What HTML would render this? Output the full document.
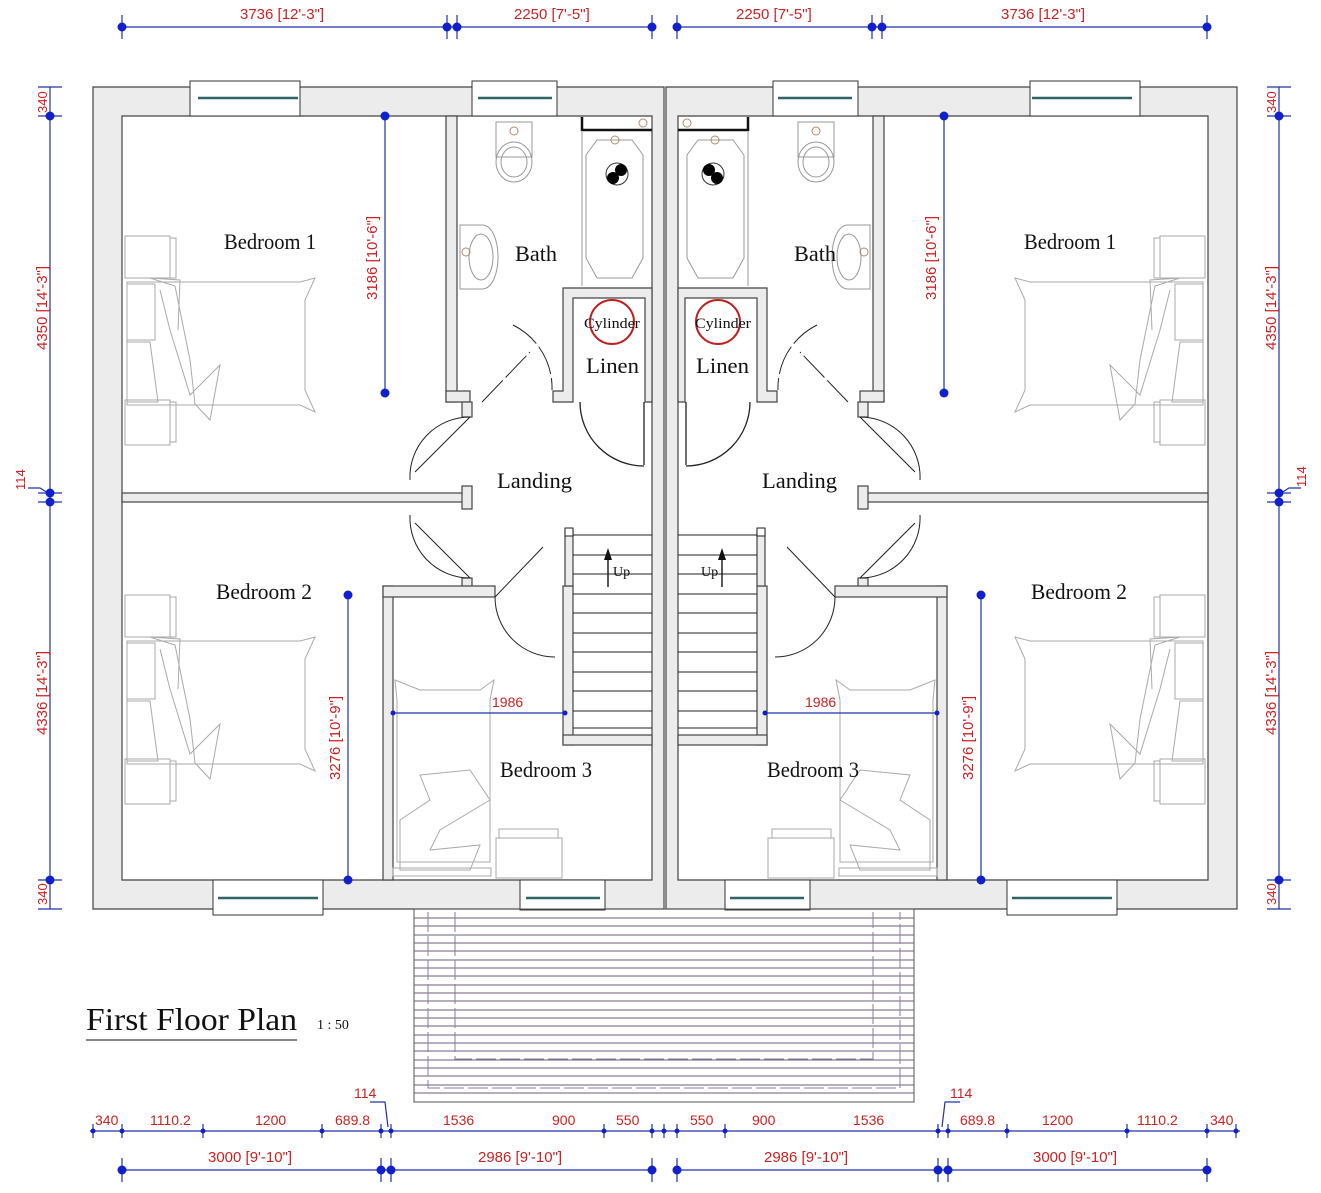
<!DOCTYPE html>
<html><head><meta charset="utf-8"><style>
html,body{margin:0;padding:0;background:#fff}
svg{display:block}
.d{fill:#cc2222;font-family:"Liberation Sans",sans-serif;font-size:15px}
.r{font-family:"Liberation Serif",serif;fill:#111}
</style></head><body>
<svg width="1321" height="1193" viewBox="0 0 1321 1193" xmlns="http://www.w3.org/2000/svg">
<defs>
<g id="half">
 <!-- walls -->
 <g fill="#ececec" stroke="#444" stroke-width="1.2">
  <path fill-rule="evenodd" d="M93,87H664V909H93Z M122,116H652V880H122Z"/>
  <rect x="122" y="493" width="348" height="9"/>
  <rect x="446" y="116" width="11" height="286"/>
  <rect x="446" y="391" width="24" height="11"/>
  <rect x="462" y="402" width="10" height="15"/>
  <rect x="462" y="486" width="10" height="23"/>
  <rect x="462" y="578" width="10" height="10"/>
  <path fill-rule="evenodd" d="M553,391H563V288H652V402H645V298H573V402H553Z"/>
  <rect x="383" y="586" width="10" height="294"/>
  <rect x="383" y="586" width="112" height="11"/>
  <rect x="563" y="586" width="10" height="159"/>
  <rect x="563" y="735" width="89" height="10"/>
  <rect x="565" y="530" width="8" height="56"/>
 </g>
 <line x1="664" y1="87" x2="664" y2="909" stroke="#444"/>
 <!-- windows -->
 <g stroke="#333" fill="#fff">
  <rect x="190" y="81" width="110" height="35"/>
  <rect x="472" y="81" width="85" height="35"/>
  <rect x="213" y="880" width="110" height="35"/>
  <rect x="520" y="880" width="85" height="30"/>
 </g>
 <g stroke="#2f6464" stroke-width="2.5">
  <line x1="198" y1="98" x2="298" y2="98"/><line x1="478" y1="98" x2="552" y2="98"/>
  <line x1="218" y1="898" x2="318" y2="898"/><line x1="526" y1="898" x2="600" y2="898"/>
 </g>
 <!-- doors -->
 <g fill="none" stroke="#222" stroke-width="1">
  <path d="M470,417 L415,472 M470,417 A60,60 0 0 0 410,480" />
  <path d="M470,578 L415,523 M470,578 A60,60 0 0 1 410,515" />
  <path d="M482,402 L530,352 M513,325 A70,70 0 0 1 552,390" stroke-dasharray="30,4"/>
  <path d="M495,597 L543,547 M495,597 A60,60 0 0 0 555,657" />
  <path d="M644,402 V465 M580,402 A64,64 0 0 0 644,466" stroke-width="1.3"/>
 </g>
 <!-- stairs -->
 <g stroke="#222" stroke-width="1">
  <line x1="573" y1="535" x2="652" y2="535"/><line x1="573" y1="555" x2="652" y2="555"/>
  <line x1="573" y1="574" x2="652" y2="574"/><line x1="573" y1="594" x2="652" y2="594"/>
  <line x1="573" y1="613" x2="652" y2="613"/><line x1="573" y1="633" x2="652" y2="633"/>
  <line x1="573" y1="652" x2="652" y2="652"/><line x1="573" y1="672" x2="652" y2="672"/>
  <line x1="573" y1="691" x2="652" y2="691"/><line x1="573" y1="711" x2="652" y2="711"/>
  <line x1="573" y1="728" x2="652" y2="728"/>
  <rect x="565" y="528" width="8" height="8" fill="#fff"/>
  <line x1="608" y1="587" x2="608" y2="553" stroke-width="1.5"/>
 </g>
 <path d="M604,560 L608,548 L612,560Z" fill="#111"/>
 <!-- bath fixtures -->
 <g fill="none" stroke="#999">
  <path d="M496,122h36v35h-36z"/><ellipse cx="514" cy="162" rx="18" ry="20"/><ellipse cx="514" cy="162" rx="13" ry="15"/>
  <path d="M460,225h22c10,0 16,15 16,32s-6,32-16,32h-22z"/><ellipse cx="481" cy="257" rx="12" ry="23"/>
  <path d="M597,140 L632,140 L643,155 L643,258 L632,278 L597,278 L586,258 L586,155Z"/>
  <line x1="582" y1="132" x2="582" y2="286"/>
 </g>
 <path d="M582,117V130H652" fill="none" stroke="#111" stroke-width="2.5"/>
 <g fill="none" stroke="#b08c6a"><circle cx="514" cy="131" r="4"/><circle cx="615" cy="140" r="4"/><circle cx="643" cy="123" r="4"/><circle cx="466" cy="252" r="4"/></g>
 <circle cx="617" cy="174" r="11" fill="#fff" stroke="#333"/>
 <circle cx="613" cy="178" r="6" fill="#000"/><circle cx="621" cy="170" r="6" fill="#000"/>
 <circle cx="612" cy="322" r="22" fill="none" stroke="#c02020" stroke-width="2"/>
 <!-- beds -->
 <g id="bed" fill="none" stroke="#aaa">
  <rect x="125" y="236" width="45" height="42"/><path d="M170,238h6v40h-6M176,245v25"/>
  <rect x="125" y="400" width="45" height="45"/><path d="M170,402h6v40h-6"/>
  <path d="M127,282H300L315,278L305,300V390L315,412L300,405H127Z"/>
  <path d="M127,284V340H155V284Z M127,342V402H158L150,342Z"/>
  <path d="M150,278L175,286L190,360L195,404L210,420L220,365L190,395L170,330L160,290"/>
  <path d="M150,278L180,280L178,330"/>
 </g>
 <use href="#bed" transform="translate(0,359)"/>
 <g fill="none" stroke="#aaa">
  <path d="M395,680L420,690H480L494,680L490,700V862H397V700Z"/>
  <path d="M420,775L470,770L490,800L440,830L430,850L480,845L470,870L400,870V820L430,800Z"/>
  <rect x="393" y="868" width="98" height="8"/>
  <rect x="496" y="838" width="66" height="40"/><path d="M499,838v-9h59v9"/>
 </g>
</g>
</defs>

<use href="#half"/>
<use href="#half" transform="translate(1330,0) scale(-1,1)"/>

<!-- deck -->
<g stroke="#6b5c7d" stroke-width="1">
 <rect x="414" y="909" width="500" height="193" fill="none" stroke="#555"/>
 <g id="dl">
 <line x1="414" y1="918" x2="914" y2="918"/><line x1="414" y1="926" x2="914" y2="926"/><line x1="414" y1="935" x2="914" y2="935"/><line x1="414" y1="943" x2="914" y2="943"/><line x1="414" y1="951" x2="914" y2="951"/><line x1="414" y1="960" x2="914" y2="960"/><line x1="414" y1="968" x2="914" y2="968"/><line x1="414" y1="976" x2="914" y2="976"/><line x1="414" y1="985" x2="914" y2="985"/><line x1="414" y1="993" x2="914" y2="993"/><line x1="414" y1="1001" x2="914" y2="1001"/><line x1="414" y1="1010" x2="914" y2="1010"/><line x1="414" y1="1018" x2="914" y2="1018"/><line x1="414" y1="1026" x2="914" y2="1026"/><line x1="414" y1="1035" x2="914" y2="1035"/><line x1="414" y1="1043" x2="914" y2="1043"/><line x1="414" y1="1051" x2="914" y2="1051"/><line x1="414" y1="1060" x2="914" y2="1060"/><line x1="414" y1="1068" x2="914" y2="1068"/><line x1="414" y1="1076" x2="914" y2="1076"/><line x1="414" y1="1085" x2="914" y2="1085"/><line x1="414" y1="1093" x2="914" y2="1093"/>
 </g>
 <path d="M428,912V1088H900V912 M455,912V1059H873V912" fill="none" stroke="#8a7aa0" stroke-dasharray="20,4"/>
</g>

<!-- room labels -->
<g class="r" font-size="22">
 <text x="224" y="249" textLength="92" lengthAdjust="spacingAndGlyphs">Bedroom 1</text>
 <text x="1024" y="249" textLength="92" lengthAdjust="spacingAndGlyphs">Bedroom 1</text>
 <text x="216" y="599" textLength="96" lengthAdjust="spacingAndGlyphs">Bedroom 2</text>
 <text x="1031" y="599" textLength="96" lengthAdjust="spacingAndGlyphs">Bedroom 2</text>
 <text x="500" y="777" textLength="92" lengthAdjust="spacingAndGlyphs">Bedroom 3</text>
 <text x="767" y="777" textLength="92" lengthAdjust="spacingAndGlyphs">Bedroom 3</text>
 <text x="515" y="261" textLength="42" lengthAdjust="spacingAndGlyphs">Bath</text>
 <text x="794" y="261" textLength="42" lengthAdjust="spacingAndGlyphs">Bath</text>
 <text x="586" y="373" textLength="53" lengthAdjust="spacingAndGlyphs">Linen</text>
 <text x="696" y="373" textLength="53" lengthAdjust="spacingAndGlyphs">Linen</text>
 <text x="497" y="488" textLength="75" lengthAdjust="spacingAndGlyphs">Landing</text>
 <text x="762" y="488" textLength="75" lengthAdjust="spacingAndGlyphs">Landing</text>
 <text x="584" y="328" font-size="15" textLength="56" lengthAdjust="spacingAndGlyphs">Cylinder</text>
 <text x="695" y="328" font-size="15" textLength="56" lengthAdjust="spacingAndGlyphs">Cylinder</text>
 <text x="613" y="576" font-size="14">Up</text>
 <text x="701" y="576" font-size="14">Up</text>
 <text x="86" y="1030" font-size="32" textLength="211" lengthAdjust="spacingAndGlyphs">First Floor  Plan</text>
 <text x="317" y="1029" font-size="14">1 : 50</text>
</g>
<line x1="86" y1="1040" x2="297" y2="1040" stroke="#111"/>

<!-- dimensions -->
<g stroke="#2233aa" stroke-width="1.2" fill="none">
 <line x1="122" y1="27" x2="652" y2="27"/><line x1="677" y1="27" x2="1207" y2="27"/>
 <line x1="50" y1="87" x2="50" y2="909"/><line x1="1279" y1="87" x2="1279" y2="909"/>
 <line x1="385" y1="116" x2="385" y2="393"/><line x1="944" y1="116" x2="944" y2="393"/>
 <line x1="348" y1="595" x2="348" y2="880"/><line x1="981" y1="595" x2="981" y2="880"/>
 <line x1="393" y1="713" x2="565" y2="713"/><line x1="765" y1="713" x2="937" y2="713"/>
 <line x1="90" y1="1131" x2="1240" y2="1131"/>
 <line x1="122" y1="1170" x2="652" y2="1170"/><line x1="677" y1="1170" x2="1207" y2="1170"/>
 <path d="M122,15v24M447,15v24M457,15v24M652,15v24M677,15v24M872,15v24M882,15v24M1207,15v24"/>
 <path d="M38,87h24M38,116h24M38,493h24M38,502h24M38,880h24M38,909h24"/>
 <path d="M1267,87h24M1267,116h24M1267,493h24M1267,502h24M1267,880h24M1267,909h24"/>
 <path d="M122,1158v24M381,1158v24M391,1158v24M652,1158v24M677,1158v24M938,1158v24M948,1158v24M1207,1158v24"/>
 <path d="M93,1124v14M122,1124v14M203,1124v14M322,1124v14M381,1124v14M391,1124v14M604,1124v14M652,1124v14M664,1124v14M677,1124v14M725,1124v14M938,1124v14M948,1124v14M1007,1124v14M1127,1124v14M1207,1124v14M1236,1124v14"/>
 <path d="M370,1102h15l3,25M960,1102h-15l-3,25M28,488h12l8,5M1301,488h-12l-8,5"/>
</g>
<g fill="#1020cc">
 <circle cx="122" cy="27" r="4.5"/><circle cx="447" cy="27" r="4.5"/><circle cx="457" cy="27" r="4.5"/><circle cx="652" cy="27" r="4.5"/>
 <circle cx="677" cy="27" r="4.5"/><circle cx="872" cy="27" r="4.5"/><circle cx="882" cy="27" r="4.5"/><circle cx="1207" cy="27" r="4.5"/>
 <circle cx="50" cy="116" r="4.5"/><circle cx="50" cy="493" r="4.5"/><circle cx="50" cy="502" r="4.5"/><circle cx="50" cy="880" r="4.5"/>
 <circle cx="1279" cy="116" r="4.5"/><circle cx="1279" cy="493" r="4.5"/><circle cx="1279" cy="502" r="4.5"/><circle cx="1279" cy="880" r="4.5"/>
 <circle cx="385" cy="116" r="4.5"/><circle cx="385" cy="393" r="4.5"/><circle cx="944" cy="116" r="4.5"/><circle cx="944" cy="393" r="4.5"/>
 <circle cx="348" cy="595" r="4.5"/><circle cx="348" cy="880" r="4.5"/><circle cx="981" cy="595" r="4.5"/><circle cx="981" cy="880" r="4.5"/>
 <circle cx="393" cy="713" r="2.5"/><circle cx="565" cy="713" r="2.5"/><circle cx="765" cy="713" r="2.5"/><circle cx="937" cy="713" r="2.5"/>
 <circle cx="122" cy="1170" r="4.5"/><circle cx="381" cy="1170" r="4.5"/><circle cx="391" cy="1170" r="4.5"/><circle cx="652" cy="1170" r="4.5"/>
 <circle cx="677" cy="1170" r="4.5"/><circle cx="938" cy="1170" r="4.5"/><circle cx="948" cy="1170" r="4.5"/><circle cx="1207" cy="1170" r="4.5"/>
 <g>
 <circle cx="93" cy="1131" r="2.5"/><circle cx="122" cy="1131" r="2.5"/><circle cx="203" cy="1131" r="2.5"/><circle cx="322" cy="1131" r="2.5"/><circle cx="381" cy="1131" r="2.5"/><circle cx="391" cy="1131" r="2.5"/><circle cx="604" cy="1131" r="2.5"/><circle cx="652" cy="1131" r="2.5"/><circle cx="664" cy="1131" r="2.5"/><circle cx="677" cy="1131" r="2.5"/><circle cx="725" cy="1131" r="2.5"/><circle cx="938" cy="1131" r="2.5"/><circle cx="948" cy="1131" r="2.5"/><circle cx="1007" cy="1131" r="2.5"/><circle cx="1127" cy="1131" r="2.5"/><circle cx="1207" cy="1131" r="2.5"/><circle cx="1236" cy="1131" r="2.5"/>
 </g>
</g>
<g class="d">
 <text x="240" y="19">3736 [12'-3"]</text><text x="514" y="19">2250 [7'-5"]</text>
 <text x="736" y="19">2250 [7'-5"]</text><text x="1001" y="19">3736 [12'-3"]</text>
 <text x="208" y="1162">3000 [9'-10"]</text><text x="478" y="1162">2986 [9'-10"]</text>
 <text x="764" y="1162">2986 [9'-10"]</text><text x="1033" y="1162">3000 [9'-10"]</text>
 <text x="95" y="1125" font-size="14">340</text><text x="150" y="1125" font-size="14">1110.2</text><text x="255" y="1125" font-size="14">1200</text><text x="335" y="1125" font-size="14">689.8</text>
 <text x="443" y="1125" font-size="14">1536</text><text x="552" y="1125" font-size="14">900</text><text x="616" y="1125" font-size="14">550</text>
 <text x="690" y="1125" font-size="14">550</text><text x="752" y="1125" font-size="14">900</text><text x="853" y="1125" font-size="14">1536</text>
 <text x="960" y="1125" font-size="14">689.8</text><text x="1042" y="1125" font-size="14">1200</text><text x="1137" y="1125" font-size="14">1110.2</text><text x="1210" y="1125" font-size="14">340</text>
 <text x="354" y="1098" font-size="14">114</text><text x="950" y="1098" font-size="14">114</text>
 <text x="492" y="707" font-size="14">1986</text><text x="805" y="707" font-size="14">1986</text>
 <text transform="translate(47,350) rotate(-90)">4350 [14'-3"]</text>
 <text transform="translate(47,735) rotate(-90)">4336 [14'-3"]</text>
 <text transform="translate(1276,350) rotate(-90)">4350 [14'-3"]</text>
 <text transform="translate(1276,735) rotate(-90)">4336 [14'-3"]</text>
 <text transform="translate(377,300) rotate(-90)">3186 [10'-6"]</text>
 <text transform="translate(936,300) rotate(-90)">3186 [10'-6"]</text>
 <text transform="translate(340,780) rotate(-90)">3276 [10'-9"]</text>
 <text transform="translate(973,780) rotate(-90)">3276 [10'-9"]</text>
 <text transform="translate(47,113) rotate(-90)" font-size="13">340</text>
 <text transform="translate(47,905) rotate(-90)" font-size="13">340</text>
 <text transform="translate(1276,113) rotate(-90)" font-size="13">340</text>
 <text transform="translate(1276,905) rotate(-90)" font-size="13">340</text>
 <text transform="translate(25,490) rotate(-90)" font-size="13">114</text>
 <text transform="translate(1306,487) rotate(-90)" font-size="13">114</text>
</g>
</svg>
</body></html>
